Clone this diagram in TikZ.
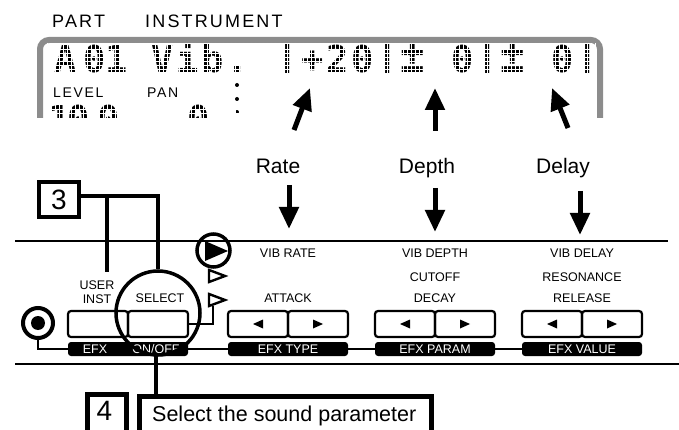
\documentclass[tikz,border=0pt]{standalone}
\usepackage{fontspec}
\setmainfont{Liberation Sans}
\newfontfamily\lcdfont{DejaVu Sans Mono}
\newfontfamily\lcdlabel[LetterSpace=12]{Liberation Sans}
\usetikzlibrary{arrows.meta,positioning,calc}
\definecolor{lcdgray}{HTML}{8C8C8C}

\tikzset{
  lcdframe/.style={line width=6pt, draw=lcdgray, rounded corners=9pt},
  lcdchar/.style={font=\lcdfont\bfseries\fontsize{37}{37}\selectfont, anchor=base, inner sep=0pt},
  dotgap/.style={white, line width=1pt},
  panelline/.style={line width=2.4pt},
  bigarrow/.style={line width=5pt, -{Triangle[length=22pt,width=19pt]}},
  callout/.style={line width=4.5pt},
  btnbox/.style={draw, line width=2.2pt, rounded corners=3pt, minimum width=60pt, minimum height=26pt, inner sep=0pt},
  efxbar/.style={fill=black, rounded corners=3pt, minimum width=120pt, minimum height=14pt, inner sep=0pt},
  bartext/.style={text=white, font=\fontsize{12.5}{13}\selectfont, inner sep=0pt},
  paneltext/.style={font=\fontsize{12.5}{14}\selectfont, inner sep=0pt, align=center},
  linkline/.style={line width=1.8pt},
  bigtext/.style={font=\fontsize{21}{22}\selectfont, inner sep=0pt, anchor=base},
}
\newcommand{\lcdpm}{\scalebox{1.1}[1.35]{±}}

\begin{document}
\begin{tikzpicture}[x=1pt,y=-1pt]
\useasboundingbox (0,0) rectangle (679,430);
% LCD
\node[font=\lcdlabel\fontsize{18}{18}\selectfont, anchor=base west, inner sep=0pt] (part) at (52,28) {PART};
\node[font=\lcdlabel\fontsize{18}{18}\selectfont, anchor=base west, inner sep=0pt] (instr) at (145,28) {INSTRUMENT};
\draw[lcdframe] (40,118) -- (40,40) -- (600,40) -- (600,118);
\begin{scope}
  \clip (44,45) rectangle (596,74);
  \foreach \x/\ch [count=\i] in {66/A,95/0,117/1,162.5/V,187.5/i,212.5/b,237.5/.,287.5/|,312.5/+,337.5/2,362.5/0,387.5/|,412.5/\lcdpm,462.5/0,487.5/|,512.5/\lcdpm,562.5/0,587.5/|}
    \node[lcdchar] (lcd\i) at (\x,73) {\ch};
\end{scope}
\node[font=\lcdlabel\fontsize{14}{14}\selectfont, anchor=base west, inner sep=0pt] (level) at (53,98) {LEVEL};
\node[font=\lcdlabel\fontsize{14}{14}\selectfont, anchor=base west, inner sep=0pt] (pan) at (147,98) {PAN};
\foreach \y in {85,99,112}
  \fill (237,\y) circle (2pt);
\begin{scope}
  \clip (44,105) rectangle (596,117.5);
  \foreach \x/\ch [count=\i] in {60/1,79/0,109/0,199/0}
    \node[lcdchar] (low\i) at (\x,133) {\ch};
\end{scope}
% dot matrix gaps
\foreach \y in {49.5,53.5,...,73.5}
  \draw[dotgap] (46,\y) -- (594,\y);
\foreach \y in {109.5,113.5}
  \draw[dotgap] (46,\y) -- (594,\y);
\foreach \x in {47,51,...,595} {
  \draw[dotgap] (\x,43) -- (\x,77);
  \draw[dotgap] (\x,103) -- (\x,118);
}

% parameter labels and arrows
\node[bigtext] (rate) at (278,174) {Rate};
\node[bigtext] (depth) at (427,174) {Depth};
\node[bigtext] (delay) at (563,174) {Delay};
\coordinate (rateUp) at (294,130);
\coordinate (rateLcd) at (310,88);
\coordinate (depthUp) at (435,131);
\coordinate (depthLcd) at (435,88);
\coordinate (delayUp) at (568,128);
\coordinate (delayLcd) at (552,88);
\draw[bigarrow] (rateUp) -- (rateLcd);
\draw[bigarrow] (depthUp) -- (depthLcd);
\draw[bigarrow] (delayUp) -- (delayLcd);
\coordinate (rateTop) at (289,185);
\coordinate (ratePanel) at (289,229);
\coordinate (depthTop) at (435,188);
\coordinate (depthPanel) at (435,232);
\coordinate (delayTop) at (580,191);
\coordinate (delayPanel) at (580,235);
\draw[bigarrow] (rateTop) -- (ratePanel);
\draw[bigarrow] (depthTop) -- (depthPanel);
\draw[bigarrow] (delayTop) -- (delayPanel);

% panel
\draw[panelline] (15,241) -- (668,241);
\draw[panelline] (15,364) -- (679,364);
\node[paneltext] (vibrate) at (288,253) {VIB RATE};
\node[paneltext] (attack) at (288,298) {ATTACK};
\node[paneltext] (vibdepth) at (435,253) {VIB DEPTH};
\node[paneltext] (cutoff) at (435,277) {CUTOFF};
\node[paneltext] (decay) at (435,298) {DECAY};
\node[paneltext] (vibdelay) at (582,253) {VIB DELAY};
\node[paneltext] (resonance) at (582,277) {RESONANCE};
\node[paneltext] (release) at (582,298) {RELEASE};
\node[paneltext] (userinst) at (97,292) {USER\\INST};
\node[paneltext] (select) at (160,298) {SELECT};

% buttons and bars
\node[btnbox] (userbtn) at (98,324) {};
\node[btnbox] (selbtn) at (158,324) {};
\node[efxbar] (barSel) at (128,349) {};
\node[bartext] (efx) at (95,349) {EFX};
\node[bartext] (onoff) at (156,349) {ON/OFF};
\foreach \c/\nm/\txt in {288/type/EFX TYPE,435/param/EFX PARAM,582/value/EFX VALUE} {
  \node[btnbox] (\nm L) at (\c-30,324) {};
  \node[btnbox] (\nm R) at (\c+30,324) {};
  \fill (\c-35,324) -- (\c-25,319.5) -- (\c-25,328.5) -- cycle;
  \fill (\c+35,324) -- (\c+25,319.5) -- (\c+25,328.5) -- cycle;
  \node[efxbar] (bar\nm) at (\c,349) {};
  \node[bartext] at (bar\nm) {\txt};
}
\node[circle, draw, line width=4pt, minimum size=30pt, inner sep=0pt] (ledring) at (38,323) {};
\fill (ledring) circle (7pt);
\draw[linkline] (ledring.south) |- (barSel.west);
\draw[linkline] (barSel.east) -- (bartype.west);
\draw[linkline] (bartype.east) -- (barparam.west);
\draw[linkline] (barparam.east) -- (barvalue.west);

% page indicators
\node[circle, draw, line width=3.5pt, minimum size=33pt, inner sep=0pt] (pagering) at (213.5,250.5) {};
\fill (205,241) -- (228,251) -- (205,261) -- cycle;
\draw[line width=2.4pt] (209,270) -- (225,276) -- (209,282) -- cycle;
\draw[line width=2.4pt] (209,294) -- (225,300) -- (209,306) -- cycle;
\coordinate (tribase) at (213,306);
\draw[linkline] (tribase) |- (selbtn.east);

% select ring
\node[circle, draw, line width=3.5pt, minimum size=84pt, inner sep=0pt] (selring) at (158,313) {};

% callout 3
\node[draw, callout, minimum width=40pt, minimum height=35pt, inner sep=0pt, font=\fontsize{28}{28}\selectfont] (box3) at (59,199.5) {3};
\coordinate (userEnd) at (107,272);
\draw[callout] (box3.east |- 0,196) -| (selring.north);
\draw[callout] (userEnd |- 0,196) -- (userEnd);

% callout 4
\node[draw, callout, minimum width=39pt, minimum height=70pt, inner sep=0pt, anchor=north west] (box4) at (85,392) {};
\node[font=\fontsize{28}{28}\selectfont, inner sep=0pt, anchor=base] (four) at (104.5,420) {4};
\node[draw, callout, minimum width=292pt, minimum height=70pt, inner sep=0pt, anchor=north west] (selbox) at (137,394) {};
\node[font=\fontsize{21.5}{22}\selectfont, inner sep=0pt, anchor=base west] (seltext) at (152,421) {Select the sound parameter};
\draw[callout] (barSel.south -| onoff) -- (selbox.north -| onoff);
\end{tikzpicture}
\end{document}
